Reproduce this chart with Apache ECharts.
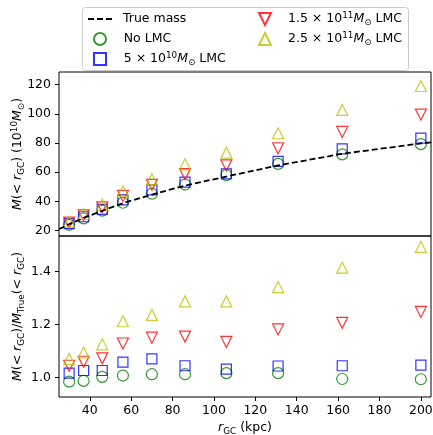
<!DOCTYPE html>
<html><head><meta charset="utf-8">
<script src="https://cdn.jsdelivr.net/npm/echarts@6/dist/echarts.min.js"></script>
<style>html,body{margin:0;padding:0;background:#fff}#c{width:433px;height:435px}</style>
</head><body><div id="c"></div>
<script>
// ---- data ----
const rGC = [30, 37, 46, 56, 70, 86, 106, 131, 162, 200];
const trueR = [25, 30, 37, 46, 56, 70, 86, 106, 131, 162, 200, 205];
const trueMass = [20.8, 24.3, 28.6, 33.5, 38.7, 44.6, 50.8, 57.0, 64.6, 72.6, 79.7, 80.4];
const massNoLMC = [23.9, 28.3, 33.6, 39.0, 45.2, 51.5, 58.0, 65.7, 72.2, 79.2];
const mass5e10 = [24.7, 29.4, 34.4, 41.0, 47.8, 53.1, 58.8, 67.4, 75.9, 83.4];
const mass15e11 = [25.4, 30.3, 35.9, 43.7, 51.3, 58.7, 64.7, 76.4, 87.6, 99.5];
const mass25e11 = [26.0, 31.3, 37.7, 46.9, 55.2, 65.4, 73.4, 86.7, 102.7, 119.1];
const ratioNoLMC = [0.985, 0.988, 1.003, 1.008, 1.013, 1.013, 1.017, 1.017, 0.995, 0.994];
const ratio5e10 = [1.017, 1.027, 1.027, 1.059, 1.071, 1.045, 1.032, 1.044, 1.045, 1.047];
const ratio15e11 = [1.045, 1.060, 1.073, 1.129, 1.151, 1.155, 1.135, 1.182, 1.207, 1.248];
const ratio25e11 = [1.070, 1.095, 1.126, 1.213, 1.237, 1.288, 1.288, 1.342, 1.415, 1.494];
const xTicks = [40, 60, 80, 100, 120, 140, 160, 180, 200];
const yTicksTop = [20, 40, 60, 80, 100, 120];
const yTicksBot = [1.0, 1.2, 1.4];
const labels = {
  'True mass': 'True mass',
  'No LMC': 'No LMC',
  '5e10': '5 × 10{sup|10}{it|M}{sub|⊙} LMC',
  '1.5e11': '1.5 × 10{sup|11}{it|M}{sub|⊙} LMC',
  '2.5e11': '2.5 × 10{sup|11}{it|M}{sub|⊙} LMC'
};

const FONT = 'DejaVu Sans';
const FS = 12.5;
const rich = {
  it: {fontStyle: 'italic', fontFamily: FONT, fontSize: FS, color: '#000', lineHeight: 16},
  sup: {fontFamily: FONT, fontSize: 8.8, color: '#000', lineHeight: 9, verticalAlign: 'top'},
  sub: {fontFamily: FONT, fontSize: 8.8, color: '#000', lineHeight: 9, verticalAlign: 'bottom'}
};
const pairs = (xs, ys) => xs.map((x, i) => [x, ys[i]]);

const chart = echarts.init(document.getElementById('c'), null, {renderer: 'canvas'});
const axisCommonX = {
  type: 'value', min: 25.1, max: 204.9, splitLine: {show: false},
  axisLine: {show: false}
};
const styles = {
  'No LMC': {symbol: 'circle', size: 11, color: '#008000', rot: 0},
  '5e10': {symbol: 'rect', size: 10, color: '#0000ff', rot: 0},
  '1.5e11': {symbol: 'triangle', size: 11, color: '#ff0000', rot: 180},
  '2.5e11': {symbol: 'triangle', size: 11, color: '#bfbf00', rot: 0}
};
function scat(name, data, gi) {
  const s = styles[name];
  return {
    name, type: 'scatter', xAxisIndex: gi, yAxisIndex: gi, data,
    symbol: s.symbol, symbolSize: s.size, symbolRotate: s.rot,
    itemStyle: {color: 'rgba(0,0,0,0)', borderColor: s.color, borderWidth: 1.2},
    emphasis: {disabled: true}, z: 3
  };
}
function legendCfg(left, data, itemWidth, pad) {
  return {
    left, top: 11, data, orient: 'vertical', padding: 0, itemGap: 4, itemWidth, itemHeight: 12,
    textStyle: {fontFamily: FONT, fontSize: FS, color: '#000', lineHeight: 16, padding: [0, 0, 0, pad], rich},
    formatter: n => labels[n], selectedMode: false
  };
}
const gridBase = {show: true, borderColor: '#000', borderWidth: 1, backgroundColor: 'transparent',
  containLabel: false, outerBoundsMode: 'none'};
chart.setOption({
  animation: false,
  textStyle: {fontFamily: FONT},
  grid: [
    Object.assign({left: 59, top: 72, width: 372, height: 164}, gridBase),
    Object.assign({left: 59, top: 236, width: 372, height: 161}, gridBase)
  ],
  xAxis: [
    Object.assign({gridIndex: 0, axisTick: {show: false}, axisLabel: {show: false}}, axisCommonX),
    Object.assign({gridIndex: 1,
      axisTick: {show: true, inside: false, length: 4, customValues: xTicks, lineStyle: {color: '#000'}},
      axisLabel: {show: true, margin: 7, fontFamily: FONT, fontSize: FS, color: '#000', customValues: xTicks},
      name: '{it|r}{sub|GC} (kpc)', nameLocation: 'middle', nameGap: 23, nameMoveOverlap: false,
      nameTextStyle: {fontFamily: FONT, fontSize: FS, color: '#000', lineHeight: 16, rich}
    }, axisCommonX)
  ],
  yAxis: [
    {gridIndex: 0, type: 'value', min: 16.2, max: 128.7, splitLine: {show: false}, axisLine: {show: false},
      axisTick: {show: true, inside: false, length: 4, customValues: yTicksTop, lineStyle: {color: '#000'}},
      axisLabel: {margin: 8, fontFamily: FONT, fontSize: FS, color: '#000', customValues: yTicksTop},
      name: '{it|M}(< {it|r}{sub|GC}) (10{sup|10}{it|M}{sub|⊙})', nameLocation: 'middle', nameRotate: 90, nameGap: 33,
      nameMoveOverlap: false,
      nameTextStyle: {fontFamily: FONT, fontSize: FS, color: '#000', lineHeight: 16, rich}},
    {gridIndex: 1, type: 'value', min: 0.927, max: 1.5347, splitLine: {show: false}, axisLine: {show: false},
      axisTick: {show: true, inside: false, length: 4, customValues: yTicksBot, lineStyle: {color: '#000'}},
      axisLabel: {margin: 8, fontFamily: FONT, fontSize: FS, color: '#000', customValues: yTicksBot, formatter: v => v.toFixed(1)},
      name: '{it|M}(< {it|r}{sub|GC})/{it|M}{sub|True}(< {it|r}{sub|GC})', nameLocation: 'middle', nameRotate: 90, nameGap: 33,
      nameMoveOverlap: false,
      nameTextStyle: {fontFamily: FONT, fontSize: FS, color: '#000', lineHeight: 16, rich}}
  ],
  legend: [
    legendCfg(87, [{name: 'True mass', itemStyle: {opacity: 0}}], 24, 6),
    Object.assign(legendCfg(93, ['No LMC', '5e10'], 12, 12.7), {top: 31}),
    legendCfg(258, [{name: '1.5e11', icon: 'path://M0,0L10,0L5,10Z'}, '2.5e11'], 12, 12)
  ],
  graphic: [{
    type: 'rect', left: 82, top: 7, shape: {width: 326, height: 63, r: 3},
    style: {fill: 'rgba(255,255,255,0.8)', stroke: '#cccccc', lineWidth: 1}, z: -1, silent: true
  }],
  series: [
    {name: 'True mass', type: 'line', xAxisIndex: 0, yAxisIndex: 0, data: pairs(trueR, trueMass),
      showSymbol: false, symbol: 'none', lineStyle: {color: '#000', width: 1.8, type: [6, 3]},
      itemStyle: {color: '#000'}, emphasis: {disabled: true}, z: 4},
    scat('No LMC', pairs(rGC, massNoLMC), 0),
    scat('5e10', pairs(rGC, mass5e10), 0),
    scat('1.5e11', pairs(rGC, mass15e11), 0),
    scat('2.5e11', pairs(rGC, mass25e11), 0),
    scat('No LMC', pairs(rGC, ratioNoLMC), 1),
    scat('5e10', pairs(rGC, ratio5e10), 1),
    scat('1.5e11', pairs(rGC, ratio15e11), 1),
    scat('2.5e11', pairs(rGC, ratio25e11), 1)
  ]
});
</script></body></html>
